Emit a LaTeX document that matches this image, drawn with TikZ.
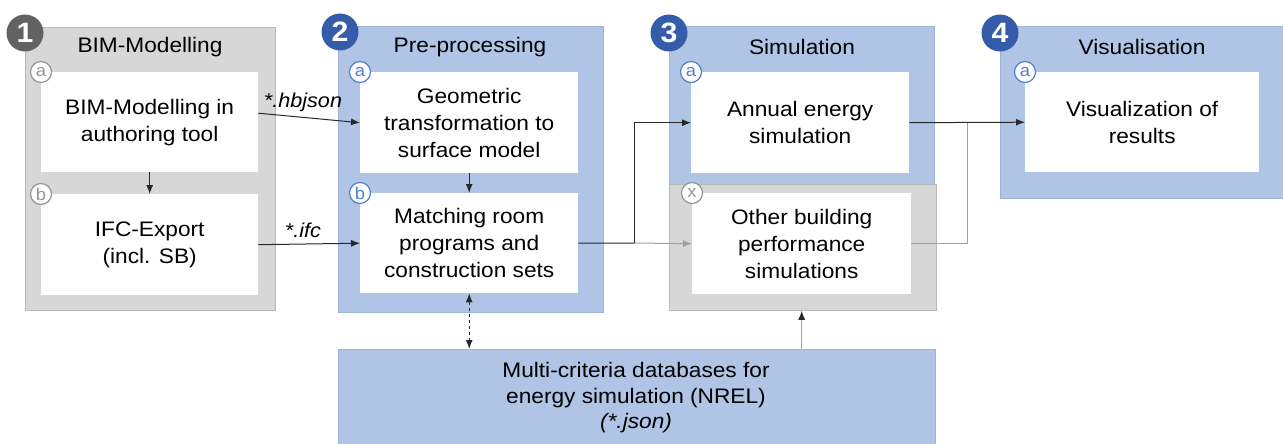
\documentclass[tikz,border=0pt]{standalone}
\usepackage{fontspec}
\setmainfont{Liberation Sans}[FakeStretch=1.08]
\usetikzlibrary{arrows.meta,positioning,calc}
\definecolor{bluefill}{RGB}{176,196,230}
\definecolor{blueedge}{RGB}{160,180,215}
\definecolor{greyfill}{RGB}{215,215,215}
\definecolor{greyedge}{RGB}{185,185,185}
\definecolor{badgeblue}{RGB}{52,92,168}
\definecolor{badgegrey}{RGB}{98,98,98}
\definecolor{letterblue}{RGB}{80,130,200}
\definecolor{lettergrey}{RGB}{150,150,150}
\definecolor{linedark}{RGB}{40,40,40}
\definecolor{linegrey}{RGB}{160,160,160}
\tikzset{
  grp/.style={anchor=north west, inner sep=0pt, line width=0.8pt},
  bluegrp/.style={grp, fill=bluefill, draw=blueedge},
  greygrp/.style={grp, fill=greyfill, draw=greyedge},
  inbox/.style={anchor=north west, fill=white, inner sep=0pt, align=center,
    font=\fontsize{21}{27}\selectfont},
  grptitle/.style={font=\fontsize{21}{25}\selectfont, inner sep=0pt},
  badge/.style={circle, inner sep=0pt, minimum size=37pt, text=white,
    font=\fontsize{28}{28}\selectfont\bfseries},
  letterb/.style={circle, fill=white, draw=letterblue, line width=1.2pt, inner sep=0pt,
    minimum size=21pt, text=letterblue, font=\fontsize{17}{17}\selectfont},
  letterg/.style={letterb, draw=lettergrey, text=lettergrey},
  arr/.style={draw=linedark, line width=1pt, -{Latex[length=9pt,width=7pt]}},
  darkline/.style={draw=linedark, line width=1pt},
  greyline/.style={draw=linegrey, line width=1pt},
  greyarr/.style={draw=linegrey, line width=1pt, -{Latex[length=9pt,width=7pt]}},
  lbl/.style={font=\fontsize{20}{20}\selectfont\itshape, inner sep=0pt},
}
\begin{document}
\begin{tikzpicture}[x=1pt,y=-1pt]
\useasboundingbox (0,0) rectangle (1283,444);
% group 1
\node[greygrp, minimum width=250pt, minimum height=283pt] (g1) at (25,27) {};
\node[grptitle] (t1) at (150,47) {BIM-Modelling};
\node[inbox, minimum width=217pt, minimum height=100pt] (a1) at (41,72) {BIM-Modelling in\\authoring tool};
\node[inbox, minimum width=217pt, minimum height=101pt] (b1) at (41,194) {IFC-Export\\(incl. SB)};
\node[badge, fill=badgegrey] (n1) at (25,33) {1};
\node[letterg] (la1) at (a1.north west) {a};
\node[letterg] (lb1) at (b1.north west) {b};
% group 2
\node[bluegrp, minimum width=265pt, minimum height=286pt] (g2) at (338,26) {};
\node[grptitle] (t2) at (470,47) {Pre-processing};
\node[inbox, minimum width=218pt, minimum height=101pt] (a2) at (360,72) {Geometric\\transformation to\\surface model};
\node[inbox, minimum width=218pt, minimum height=100pt] (b2) at (360,193) {Matching room\\programs and\\construction sets};
\node[badge, fill=badgeblue] (n2) at (340,32) {2};
\node[letterb] (la2) at (a2.north west) {a};
\node[letterb] (lb2) at (b2.north west) {b};
% group 3
\node[bluegrp, minimum width=265pt, minimum height=158pt] (g3) at (669,26) {};
\node[greygrp, minimum width=267pt, minimum height=126pt] (g3g) at (669,184) {};
\node[grptitle] (t3) at (802,47) {Simulation};
\node[inbox, minimum width=218pt, minimum height=101pt] (a3) at (691,72) {Annual energy\\simulation};
\node[inbox, minimum width=219pt, minimum height=101pt] (x3) at (692,193) {Other building\\performance\\simulations};
\node[badge, fill=badgeblue] (n3) at (669,33) {3};
\node[letterb] (la3) at (a3.north west) {a};
\node[letterg] (lx3) at (x3.north west) {x};
% group 4
\node[bluegrp, minimum width=290pt, minimum height=172pt] (g4) at (1000,26) {};
\node[grptitle] (t4) at (1142,47) {Visualisation};
\node[inbox, minimum width=234pt, minimum height=100pt] (a4) at (1025,72) {Visualization of\\results};
\node[badge, fill=badgeblue] (n4) at (1000,33) {4};
\node[letterb] (la4) at (a4.north west) {a};
% database
\node[bluegrp, minimum width=597pt, minimum height=100pt] (db) at (338,349) {};
\node[align=center, font=\fontsize{21}{25.5}\selectfont, inner sep=0pt] (dbt) at (636,398)
  {Multi-criteria databases for\\energy simulation (NREL)\\\textit{(*.json)}};
% connectors
\draw[arr] ([yshift=9pt]a1.east) -- (a2.west);
\node[lbl] (lh) at (303,102) {*.hbjson};
\draw[arr] (b1.east) -- (b2.west);
\node[lbl] (li) at (303,230) {*.ifc};
\draw[arr] (a1.south) -- (b1.north);
\draw[arr] (a2.south) -- (b2.north);
\coordinate (j1) at (634,243);
\coordinate (j2) at (967,122);
\draw[greyarr] (j1) -- (x3.west);
\draw[darkline] (b2.east) -- (j1);
\draw[arr] (j1) |- (a3.west);
\draw[greyline] (x3.east) -| (j2);
\draw[arr] (a3.east) -- (a4.west);
\draw[draw=linedark, line width=1pt, dashed, {Latex[length=9pt,width=7pt]}-{Latex[length=9pt,width=7pt]}]
  (b2.south) -- (b2.south |- db.north);
\draw[draw=linegrey, line width=1pt, -{Latex[length=9pt,width=7pt,color=linedark]}]
  (x3.south |- db.north) -- (x3.south |- g3g.south);
\end{tikzpicture}
\end{document}
